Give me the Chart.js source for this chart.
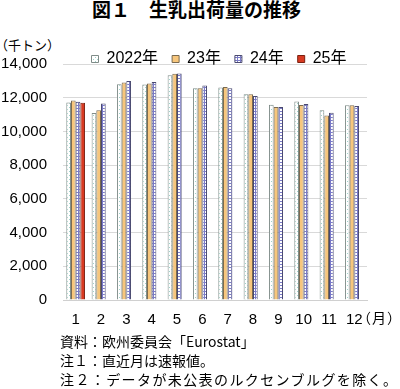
<!DOCTYPE html>
<html>
<head>
<meta charset="utf-8">
<script src="https://cdn.jsdelivr.net/npm/chart.js@4"></script>
<style>
  body { margin: 0; width: 400px; height: 389px; background: #fff; position: relative; overflow: hidden;
         font-family: "Liberation Sans", "Noto Sans CJK JP", sans-serif; color: #000; }
  #titulo { position: absolute; top: -3px; left: 92px; font-size: 19px; font-weight: bold; white-space: nowrap;
            line-height: 24px; font-family: "Noto Sans CJK JP", sans-serif; }
  #unidade { position: absolute; top: 35px; left: -5px; font-size: 13px; font-family: "Noto Sans CJK JP", sans-serif; }
  #mes { position: absolute; top: 307px; left: 357px; font-size: 14px; letter-spacing: 1px; white-space: nowrap;
         font-family: "Noto Sans CJK JP", sans-serif; }
  #notas { position: absolute; top: 332px; left: 60px; font-size: 14px; line-height: 19px; white-space: nowrap;
           font-family: "Noto Sans CJK JP", sans-serif; }
  #notas .larga { letter-spacing: 1.4px; }
  #caixa { position: absolute; left: 0; top: 30px; width: 400px; height: 302px; }
</style>
</head>
<body>
<div id="titulo">図１　生乳出荷量の推移</div>
<div id="unidade">（千トン）</div>
<div id="caixa"><canvas id="grafico"></canvas></div>
<div id="mes">（月）</div>
<div id="notas">
  資料：欧州委員会「Eurostat」<br>
  注１：直近月は速報値。<br>
  <span class="larga">注２：データが未公表のルクセンブルグを除く。</span>
</div>
<script>
// Dados (mil toneladas)
const meses = ['1','2','3','4','5','6','7','8','9','10','11','12'];
const anos = ['2022年','23年','24年','25年'];
const valores2022 = [11720, 11100, 12800, 12780, 13340, 12560, 12600, 12200, 11590, 11770, 11250, 11550];
const valores2023 = [11840, 11250, 12900, 12850, 13420, 12560, 12630, 12200, 11450, 11570, 10950, 11550];
const valores2024 = [11760, 11650, 12990, 12930, 13440, 12720, 12560, 12100, 11450, 11630, 11110, 11510];
const valores2025 = [11700, null, null, null, null, null, null, null, null, null, null, null];
const ticksY = [0, 2000, 4000, 6000, 8000, 10000, 12000, 14000];

// Padrões de preenchimento
function criarPadrao(tam, desenhar) {
  const c = document.createElement('canvas');
  c.width = tam; c.height = tam;
  const ctx = c.getContext('2d');
  desenhar(ctx);
  return document.getElementById('grafico').getContext('2d').createPattern(c, 'repeat');
}
const padraoPontos = criarPadrao(4, ctx => {
  ctx.fillStyle = '#ffffff'; ctx.fillRect(0, 0, 4, 4);
  ctx.fillStyle = '#9fd3cb'; ctx.fillRect(1, 1, 1, 1); ctx.fillRect(3, 3, 1, 1);
});
const padraoGrade = criarPadrao(3, ctx => {
  ctx.fillStyle = '#ffffff'; ctx.fillRect(0, 0, 3, 3);
  ctx.fillStyle = '#7b7bc8'; ctx.fillRect(0, 0, 3, 1); ctx.fillRect(0, 0, 1, 3);
});

const fonte = "'Liberation Sans', 'Noto Sans CJK JP', sans-serif";

// Desloca a legenda (direita e um pouco para baixo), como no original
const moverLegenda = {
  id: 'moverLegenda',
  afterLayout(chart) {
    const lg = chart.legend;
    const dx = 219 - (lg.left + lg.right) / 2;
    lg.left += dx; lg.right += dx;
    lg.top += 7; lg.bottom += 7;
  }
};

new Chart(document.getElementById('grafico'), {
  type: 'bar',
  data: {
    labels: meses,
    datasets: [
      { label: anos[0], data: valores2022, backgroundColor: padraoPontos, borderColor: '#7f8c88', borderWidth: 1 },
      { label: anos[1], data: valores2023, backgroundColor: '#f7c67c', borderColor: '#7a6a50', borderWidth: 1 },
      { label: anos[2], data: valores2024, backgroundColor: padraoGrade, borderColor: '#4a4a70', borderWidth: 1 },
      { label: anos[3], data: valores2025, backgroundColor: '#d83a22', borderColor: '#7a2010', borderWidth: 1 }
    ]
  },
  options: {
    responsive: true,
    maintainAspectRatio: false,
    animation: false,
    layout: { padding: { left: 0, right: 33, top: 0, bottom: 0 } },
    datasets: { bar: { categoryPercentage: 0.74, barPercentage: 1 } },
    plugins: {
      legend: {
        position: 'top',
        align: 'center',
        maxHeight: 34,
        labels: { boxWidth: 7, boxHeight: 7, padding: 14, color: '#000', font: { family: fonte, size: 16 } }
      },
      tooltip: { enabled: false }
    },
    scales: {
      x: {
        grid: { display: false },
        border: { color: '#d0d0d0' },
        ticks: { color: '#000', font: { family: fonte, size: 15 }, maxRotation: 0, padding: 3 }
      },
      y: {
        min: 0, max: 14000,
        afterBuildTicks: s => { s.ticks = ticksY.map(v => ({ value: v })); },
        afterFit: s => { s.width = 63; },
        grid: { color: '#d9d9d9', drawTicks: false },
        border: { display: false },
        ticks: { color: '#000', font: { family: fonte, size: 15 }, padding: 16,
                 callback: v => v.toLocaleString('en-US') }
      }
    }
  },
  plugins: [moverLegenda]
});
</script>
</body>
</html>
